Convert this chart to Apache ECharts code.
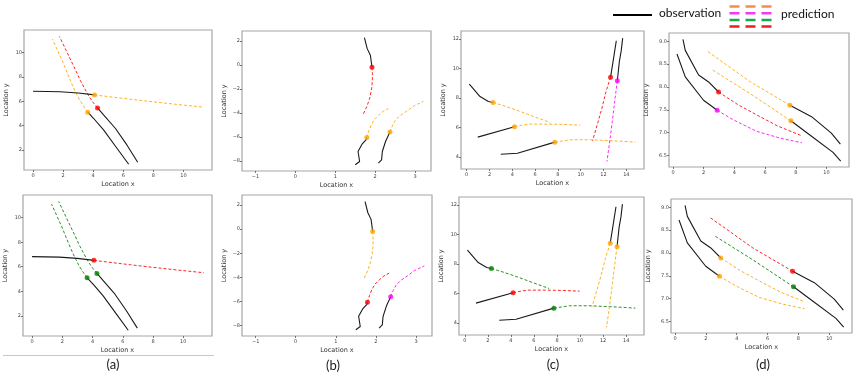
<!DOCTYPE html>
<html>
<head>
<meta charset="utf-8">
<script src="https://cdn.jsdelivr.net/npm/echarts@6/dist/echarts.min.js"></script>
<style>
  html, body { margin: 0; padding: 0; background: #fff; }
  #main { width: 859px; height: 377px; }
</style>
</head>
<body>
<div id="main"></div>
<script>
  // scene (a): observed paths end at the current position, predictions continue from there
  const aObs = [
    [[0, 6.82], [1.8, 6.78], [3, 6.68], [4.09, 6.52]],
    [[6.36, 0.82], [5.58, 2.14], [4.69, 3.64], [4.02, 4.6], [3.64, 5.1]],
    [[6.96, 0.99], [6.24, 2.41], [5.47, 3.78], [4.69, 4.88], [4.29, 5.45]]
  ]
  const aPred = [
    [[5, 6.38], [6.5, 6.16], [8, 5.95], [9.7, 5.72], [11.36, 5.51]],
    [[3.35, 5.6], [3.1, 6.1], [2.85, 6.7], [2.55, 7.5], [2.25, 8.4], [1.95, 9.3], [1.62, 10.2], [1.29, 11.1]],
    [[4.0, 5.9], [3.72, 6.4], [3.45, 7.0], [3.15, 7.7], [2.85, 8.5], [2.52, 9.35], [2.15, 10.3], [1.76, 11.32]]
  ]
  const aTopColors = ['orange', 'orange', 'red']
  const aBotColors = ['red', 'green', 'green']
  const aXTicks = [0, 2, 4, 6, 8, 10]
  const aYTicks = [2, 4, 6, 8, 10]
  const aXRange = [-0.6, 11.9]
  const aYRange = [0.35, 11.85]

  // scene (b)
  const bObs = [
    [[1.73, 2.28], [1.8, 1.36], [1.88, 0.81], [1.92, -0.19]],
    [[1.5, -8.33], [1.61, -8.06], [1.57, -7.22], [1.67, -6.61], [1.77, -6.25], [1.79, -6.06]],
    [[2.08, -8.19], [2.16, -7.92], [2.18, -7.22], [2.26, -6.39], [2.37, -5.59]]
  ]
  const bPred = [
    [[1.93, -0.7], [1.93, -1.3], [1.91, -2.0], [1.87, -2.7], [1.8, -3.4], [1.7, -4.12]],
    [[1.84, -5.5], [1.9, -5.0], [1.98, -4.55], [2.1, -4.15], [2.2, -3.88], [2.33, -3.65]],
    [[2.43, -5.1], [2.5, -4.65], [2.62, -4.25], [2.78, -3.88], [2.98, -3.4], [3.21, -3.04]]
  ]
  const bTopColors = ['red', 'orange', 'orange']
  const bBotColors = ['orange', 'red', 'magenta']
  const bXTicks = [-1, 0, 1, 2, 3]
  const bYTicks = [-8, -6, -4, -2, 0, 2]
  const bXRange = [-1.34, 3.4]
  const bYRange = [-8.85, 2.83]

  // scene (c)
  const cObs = [
    [[0.23, 8.95], [1.17, 8.11], [1.9, 7.77], [2.31, 7.71]],
    [[0.97, 5.36], [4.19, 6.06]],
    [[2.99, 4.2], [4.45, 4.27], [7.73, 5.02]],
    [[13.12, 11.89], [12.9, 10.8], [12.62, 9.42]],
    [[13.68, 12.07], [13.55, 11.2], [13.39, 10.49], [13.21, 9.18]]
  ]
  const cPred = [
    [[3.5, 7.42], [4.69, 7.1], [6, 6.72], [7.32, 6.35]],
    [[4.9, 6.18], [5.57, 6.24], [7.03, 6.24], [8.5, 6.22], [9.96, 6.17]],
    [[9.08, 5.18], [10.84, 5.18], [12.89, 5.11], [14.8, 5.02]],
    [[12.2, 8.4], [11.86, 7.32], [11.45, 6.2], [11.04, 5.11]],
    [[12.95, 7.6], [12.77, 6.42], [12.55, 5.1], [12.3, 3.71]]
  ]
  const cTopColors = ['orange', 'orange', 'orange', 'red', 'magenta']
  const cBotColors = ['green', 'red', 'green', 'orange', 'orange']
  const cXTicks = [0, 2, 4, 6, 8, 10, 12, 14]
  const cYTicks = [4, 6, 8, 10, 12]
  const cXRange = [-0.5, 15.55]
  const cYRange = [3.2, 12.55]

  // scene (d)
  const dObs = [
    [[0.65, 9.04], [0.8, 8.8], [1.67, 8.26], [2.32, 8.11], [2.97, 7.89]],
    [[0.26, 8.72], [0.8, 8.22], [1.99, 7.71], [2.88, 7.49]],
    [[10.91, 6.75], [10.32, 6.99], [9.03, 7.35], [7.62, 7.6]],
    [[10.93, 6.38], [10.43, 6.57], [8.92, 6.95], [7.68, 7.26]]
  ]
  const dPred = [
    [[4.2, 7.62], [5.45, 7.39], [6.8, 7.15], [8.33, 6.94]],
    [[3.94, 7.28], [5.45, 7.03], [7, 6.88], [8.4, 6.78]],
    [[5, 8.12], [2.25, 8.78]],
    [[5, 7.86], [2.58, 8.37]]
  ]
  const dTopColors = ['red', 'magenta', 'orange', 'orange']
  const dBotColors = ['orange', 'orange', 'red', 'green']
  const dXTicks = [0, 2, 4, 6, 8, 10]
  const dYTicks = [6.5, 7.0, 7.5, 8.0, 8.5, 9.0]
  const dXRange = [-0.26, 11.47]
  const dYRange = [6.25, 9.18]

  const captions = ['(a)', '(b)', '(c)', '(d)']

  const palette = { orange: '#FFA500', red: '#FF0000', green: '#008000', magenta: '#FF00FF' }
  const font = 'DejaVu Sans'

  const scenes = [
    { obs: aObs, pred: aPred, top: aTopColors, bot: aBotColors, xt: aXTicks, yt: aYTicks, xr: aXRange, yr: aYRange, dec: 0 },
    { obs: bObs, pred: bPred, top: bTopColors, bot: bBotColors, xt: bXTicks, yt: bYTicks, xr: bXRange, yr: bYRange, dec: 0 },
    { obs: cObs, pred: cPred, top: cTopColors, bot: cBotColors, xt: cXTicks, yt: cYTicks, xr: cXRange, yr: cYRange, dec: 0 },
    { obs: dObs, pred: dPred, top: dTopColors, bot: dBotColors, xt: dXTicks, yt: dYTicks, xr: dXRange, yr: dYRange, dec: 1 }
  ]

  // frame boxes [left, top, width, height], top row then bottom row
  const boxes = [
    [24, 30, 188, 140], [242, 31, 189, 140], [461, 31, 183, 138], [669, 33, 180, 134],
    [23, 195, 189, 141], [242, 195, 190, 141], [459, 197, 185, 138], [671, 199, 181, 134]
  ]
  const captionPos = [[113, 365], [333, 366], [553, 365], [763, 365]]

  const fmt = dec => v => (dec ? v.toFixed(dec) : String(Math.round(v))).replace('-', '\u2212')

  const grid = [], xAxis = [], yAxis = [], series = []

  boxes.forEach((b, i) => {
    const sc = scenes[i % 4]
    const row = i < 4 ? 0 : 1
    grid.push({
      left: b[0], top: b[1], width: b[2], height: b[3],
      show: true, borderColor: '#a6a6a6', borderWidth: 1.2
    })
    const tickStyle = { show: true, length: 2, inside: false, lineStyle: { color: '#555', width: 0.8 } }
    xAxis.push({
      type: 'value', gridIndex: i, min: sc.xr[0], max: sc.xr[1], position: 'bottom',
      axisLine: { show: false, onZero: false }, splitLine: { show: false },
      axisTick: Object.assign({ customValues: sc.xt }, tickStyle),
      axisLabel: { customValues: sc.xt, formatter: fmt(0), fontFamily: font, fontSize: 5, color: '#444', margin: 3 },
      name: (i === 3) ? '' : 'Location x', nameLocation: 'middle', nameGap: 11,
      nameTextStyle: { fontFamily: font, fontSize: 6.5, color: '#333' }
    })
    yAxis.push({
      type: 'value', gridIndex: i, min: sc.yr[0], max: sc.yr[1], position: 'left',
      axisLine: { show: false, onZero: false }, splitLine: { show: false },
      axisTick: Object.assign({ customValues: sc.yt }, tickStyle),
      axisLabel: { customValues: sc.yt, formatter: fmt(sc.dec), fontFamily: font, fontSize: 5, color: '#444', margin: 2 },
      name: 'Location y', nameLocation: 'middle', nameGap: sc.dec ? 19 : 14,
      nameTextStyle: { fontFamily: font, fontSize: 6.5, color: '#333' }
    })
    const colors = row === 0 ? sc.top : sc.bot
    sc.obs.forEach((path, k) => {
      const now = path[path.length - 1]
      const col = palette[colors[k]]
      series.push({
        type: 'line', xAxisIndex: i, yAxisIndex: i, data: path, showSymbol: false,
        lineStyle: { color: '#1a1a1a', width: 1.1 }, z: 3
      })
      series.push({
        type: 'line', xAxisIndex: i, yAxisIndex: i, data: [now].concat(sc.pred[k]),
        showSymbol: false,
        lineStyle: { color: col, width: 1, type: [3, 2], opacity: 0.85 }, z: 2
      })
      series.push({
        type: 'scatter', xAxisIndex: i, yAxisIndex: i, data: [now], symbolSize: 5,
        itemStyle: { color: col }, z: 4
      })
    })
  })

  const graphic = [
    { type: 'line', shape: { x1: 3, y1: 355.5, x2: 214, y2: 355.5 }, style: { stroke: '#c8c8c8', lineWidth: 1 } },
    { type: 'line', shape: { x1: 613, y1: 15, x2: 652, y2: 15 }, style: { stroke: '#000', lineWidth: 2 } },
    { type: 'text', left: 659, top: 7, style: { text: 'observation', font: '12px Lato', fill: '#111' } },
    { type: 'text', left: 781, top: 8, style: { text: 'prediction', font: '12px Lato', fill: '#111' } }
  ]
  const legendDash = ['#F58C4C', '#F03CF0', '#1AA84F', '#F01E1E']
  legendDash.forEach((c, k) => {
    graphic.push({
      type: 'line', shape: { x1: 729.5, y1: 6.5 + k * 6.7, x2: 771.5, y2: 6.5 + k * 6.7 },
      style: { stroke: c, lineWidth: 2.5, lineDash: [10, 6] }
    })
  })
  captions.forEach((t, k) => {
    graphic.push({
      type: 'text', x: captionPos[k][0], y: captionPos[k][1],
      style: { text: t, font: '13px Lato', fill: '#222', textAlign: 'center', textVerticalAlign: 'middle' }
    })
  })

  const chart = echarts.init(document.getElementById('main'))
  chart.setOption({
    animation: false,
    backgroundColor: '#fff',
    grid: grid,
    xAxis: xAxis,
    yAxis: yAxis,
    series: series,
    graphic: graphic.map(g => Object.assign({ z: 100 }, g))
  })
</script>
</body>
</html>
